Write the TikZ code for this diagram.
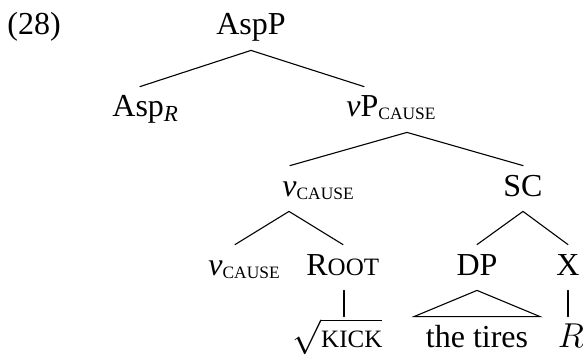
\documentclass[tikz,border=0pt]{standalone}
\usepackage{amsmath}
\usepackage{fontspec}
\setmainfont{Liberation Serif}
\usepackage{tikz}
\usetikzlibrary{positioning, calc}

% fake small caps (Liberation Serif has none)
\newcommand{\smc}[1]{{\fontsize{12.5}{14}\selectfont #1}}
\newcommand{\causesub}{\raisebox{-1.5pt}{\fontsize{8.7}{10}\selectfont CAUSE}}
\newcommand{\rsub}{\raisebox{-2pt}{\fontsize{11.5}{12}\selectfont\itshape R}}

\begin{document}
\begin{tikzpicture}[
    x=0.5pt, y=-0.5pt,
    font=\fontsize{16}{19}\selectfont,
    cat/.style={inner xsep=0pt, inner ysep=4pt, text height=11pt, text depth=3.5pt, anchor=base},
    catl/.style={cat, anchor=base west},
    branch/.style={line width=0.55pt, line cap=round},
]
\useasboundingbox (0,0) rectangle (583,358);

% example number
\node[catl] (exnum) at (7,35) {(28)};

% Row 0
\node[cat] (aspp) at (251,35) {AspP};

% Row 1
\node[catl] (aspr) at (112,117) {Asp\rsub};
\node[catl] (vp) at (346,117) {\textit{v}P\causesub};

% Row 2
\node[catl] (vcause) at (282,196) {\textit{v}\causesub};
\node[cat] (sc) at (523,196) {SC};

% Row 3
\node[catl] (vhead) at (208,275) {\textit{v}\causesub};
\node[catl] (root) at (306,275) {R\smc{OOT}};
\node[cat] (dp) at (477,275) {DP};
\node[cat] (xp) at (568,275) {X};

% Row 4
\node[catl] (kick) at (292,347) {$\sqrt{\text{\smc{KICK}}}$};
\node[cat] (tires) at (477,347) {the tires};
\node[cat] (rterm) at (571,347) {$R$};

% Branches
\draw[branch] (aspp.south) -- ([xshift=14pt]aspr.north west);
\draw[branch] (aspp.south) -- ([xshift=9pt]vp.north west);
\draw[branch] ([xshift=30.5pt]vp.south west) -- ([xshift=4pt]vcause.north west);
\draw[branch] ([xshift=30.5pt]vp.south west) -- (sc.north);
\draw[branch] ([xshift=3.5pt]vcause.south west) -- ([xshift=13.5pt]vhead.north west);
\draw[branch] ([xshift=3.5pt]vcause.south west) -- ([xshift=18.5pt]root.north west);
\draw[branch] (sc.south) -- (dp.north);
\draw[branch] (sc.south) -- (xp.north);
\draw[branch] ([xshift=19pt]root.south west) -- ([xshift=26pt]kick.north west);
\draw[branch] (xp.south) -- ([xshift=-1.5pt]rterm.north);

% triangle over the DP
\draw[branch] (dp.south) -- ([xshift=-31.5pt]tires.north) -- ([xshift=31.5pt]tires.north) -- cycle;

\end{tikzpicture}
\end{document}
